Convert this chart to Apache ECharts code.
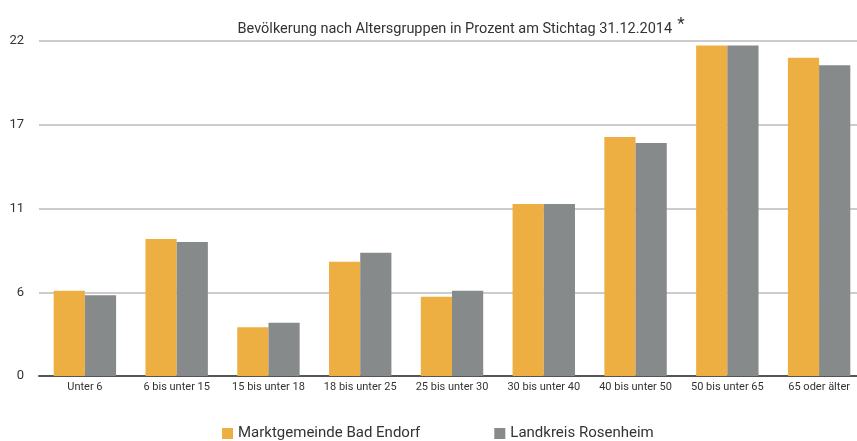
<!DOCTYPE html>
<html>
<head>
<meta charset="utf-8">
<script src="https://cdn.jsdelivr.net/npm/echarts@6/dist/echarts.min.js"></script>
<style>
  html, body { margin: 0; padding: 0; background: #fff; }
  #chart { width: 857px; height: 441px; }
</style>
</head>
<body>
<div id="chart"></div>
<script>
  // Altersgruppen
  const categories = ['Unter 6', '6 bis unter 15', '15 bis unter 18', '18 bis unter 25', '25 bis unter 30',
    '30 bis unter 40', '40 bis unter 50', '50 bis unter 65', '65 oder älter'];
  const endorfValues = [5.6, 9.0, 3.2, 7.5, 5.2, 11.3, 15.7, 21.7, 20.9];
  const rosenheimValues = [5.3, 8.8, 3.5, 8.1, 5.6, 11.3, 15.3, 21.7, 20.4];
  const seriesNames = ['Marktgemeinde Bad Endorf', 'Landkreis Rosenheim'];
  const colors = ['#EEAF42', '#878A8A'];

  const chart = echarts.init(document.getElementById('chart'));

  const option = {
    animation: false,
    textStyle: { fontFamily: 'Roboto, "Liberation Sans", sans-serif' },
    title: {
      text: 'Bevölkerung nach Altersgruppen in Prozent am Stichtag 31.12.2014{sup|*}',
      left: 456,
      textAlign: 'center',
      top: 11,
      textStyle: {
        fontSize: 14.5,
        fontWeight: 'normal',
        color: '#333',
        rich: {
          sup: { fontSize: 17, color: '#333', padding: [0, 0, 9, 5] }
        }
      }
    },
    legend: {
      bottom: -5,
      left: 217,
      itemWidth: 11,
      itemHeight: 11,
      itemGap: 74,
      icon: 'rect',
      textStyle: { fontSize: 15, color: '#333' },
      data: seriesNames
    },
    grid: { left: 39, width: 826, top: 41, bottom: 65, containLabel: false, outerBoundsMode: 'none' },
    xAxis: {
      type: 'category',
      data: categories,
      axisTick: { show: false },
      axisLine: { lineStyle: { color: '#555', width: 2 } },
      axisLabel: { fontSize: 11, color: '#333', margin: 6, interval: 0 }
    },
    yAxis: {
      type: 'value',
      min: 0,
      max: 22,
      interval: 5.5,
      axisLine: { show: false },
      axisTick: { show: false },
      axisLabel: {
        fontSize: 13,
        color: '#333',
        margin: 15,
        formatter: (v) => Math.round(v)
      },
      splitLine: { lineStyle: { color: '#ccc', width: 2 } }
    },
    series: [
      {
        name: seriesNames[0],
        type: 'bar',
        data: endorfValues,
        itemStyle: { color: colors[0] },
        barGap: '0%',
        barCategoryGap: '32%'
      },
      {
        name: seriesNames[1],
        type: 'bar',
        data: rosenheimValues,
        itemStyle: { color: colors[1] },
        barGap: '0%',
        barCategoryGap: '32%'
      }
    ]
  };

  chart.setOption(option);
</script>
</body>
</html>
